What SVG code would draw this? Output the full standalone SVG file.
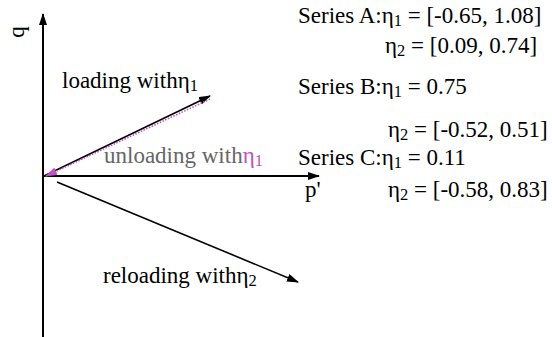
<svg xmlns="http://www.w3.org/2000/svg" width="552" height="337" viewBox="0 0 552 337">
<style>
text{font-family:"Liberation Serif","Times New Roman",serif;font-size:23px;fill:#000}
.sub{font-size:16.5px}
.ax{stroke:#000;stroke-width:2;fill:none}
.ln{stroke:#000;stroke-width:1.6;fill:none}
.pk{stroke:#c24fc2;stroke-width:1.6;stroke-dasharray:1.5 1.5;fill:none}
</style>
<defs>
<marker id="ah" markerWidth="12" markerHeight="8" refX="11" refY="4" orient="auto" markerUnits="userSpaceOnUse"><path d="M0,0 L12,4 L0,8 Z" fill="#000"/></marker>
<marker id="ahp" markerWidth="12" markerHeight="8" refX="11" refY="4" orient="auto" markerUnits="userSpaceOnUse"><path d="M0,0 L12,4 L0,8 Z" fill="#c24fc2"/></marker>
</defs>
<g id="connectors">
<line class="ax" x1="43" y1="337" x2="43" y2="14" marker-end="url(#ah)"/>
<line class="ax" x1="43" y1="176" x2="319" y2="176" marker-end="url(#ah)"/>
<line class="ln" x1="44" y1="176" x2="210" y2="96" marker-end="url(#ah)"/>
<line class="pk" x1="210" y1="99" x2="46" y2="176" marker-end="url(#ahp)"/>
<line class="ln" x1="57" y1="182" x2="298" y2="282" marker-end="url(#ah)"/>
</g>
<g id="axis-q"><text transform="translate(24,32) rotate(-90)" text-anchor="middle">q</text></g>
<g id="axis-p"><text x="305" y="197">p'</text></g>
<g id="loading"><text x="62" y="88">loading with<tspan>η</tspan><tspan class="sub" dy="3">1</tspan></text></g>
<g id="unloading"><text x="104" y="163" style="fill:#666">unloading with<tspan style="fill:#c24fc2">η</tspan><tspan class="sub" dy="3" style="fill:#c24fc2">1</tspan></text></g>
<g id="reloading"><text x="103" y="283">reloading with<tspan>η</tspan><tspan class="sub" dy="3">2</tspan></text></g>
<g id="legend">
<text x="298" y="23">Series A:<tspan>η</tspan><tspan class="sub" dy="3">1</tspan><tspan dy="-3"> = [-0.65, 1.08]</tspan></text>
<text x="385" y="53"><tspan>η</tspan><tspan class="sub" dy="3">2</tspan><tspan dy="-3"> = [0.09, 0.74]</tspan></text>
<text x="298" y="94">Series B:<tspan>η</tspan><tspan class="sub" dy="3">1</tspan><tspan dy="-3"> = 0.75</tspan></text>
<text x="388" y="137"><tspan>η</tspan><tspan class="sub" dy="3">2</tspan><tspan dy="-3"> = [-0.52, 0.51]</tspan></text>
<text x="298" y="165">Series C:<tspan>η</tspan><tspan class="sub" dy="3">1</tspan><tspan dy="-3"> = 0.11</tspan></text>
<text x="388" y="197"><tspan>η</tspan><tspan class="sub" dy="3">2</tspan><tspan dy="-3"> = [-0.58, 0.83]</tspan></text>
</g>
</svg>
